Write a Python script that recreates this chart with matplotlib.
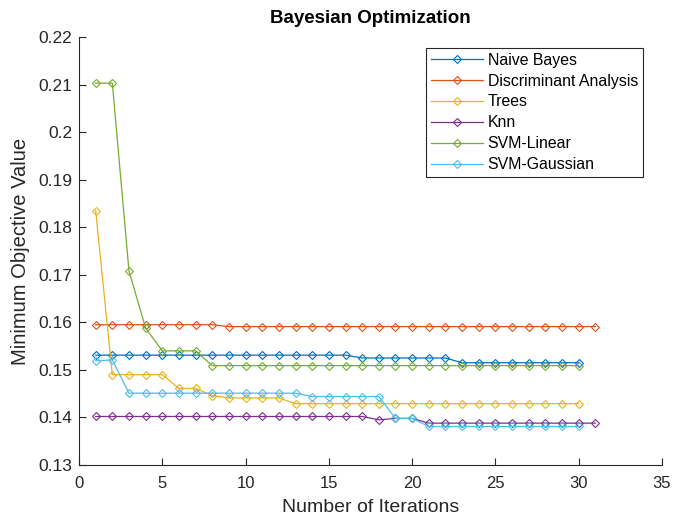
import matplotlib
matplotlib.use("Agg")
import matplotlib.pyplot as plt

plt.rcParams['font.family'] = ['Liberation Sans', 'DejaVu Sans']

naive_bayes = [0.1531]*16 + [0.1525]*6 + [0.1515]*8
discriminant = [0.1595]*8 + [0.1591]*23
trees = [0.1835] + [0.1490]*4 + [0.1461]*2 + [0.1446] + [0.1441]*4 + [0.1429]*18
knn = [0.1402]*17 + [0.1395, 0.1398, 0.1398] + [0.1388]*11
svm_linear = [0.2103, 0.2103, 0.1708, 0.1588] + [0.1540]*3 + [0.1509]*23
svm_gaussian = [0.1519, 0.1521] + [0.1451]*11 + [0.1444]*5 + [0.1398, 0.1398] + [0.1381]*10

labels = ["Naive Bayes", "Discriminant Analysis", "Trees", "Knn", "SVM-Linear", "SVM-Gaussian"]
series = [naive_bayes, discriminant, trees, knn, svm_linear, svm_gaussian]
colors = ["#0072BD", "#D95319", "#EDB120", "#7E2F8E", "#77AC30", "#4DBEEE"]

L, R, T, B = 79, 662, 37, 465
fig = plt.figure(figsize=(6.75, 5.18), dpi=100)
ax = fig.add_axes([L/675, 1-B/518, (R-L)/675, (B-T)/518])

for vals, lab, c in zip(series, labels, colors):
    xs = list(range(1, len(vals)+1))
    ax.plot(xs, vals, color=c, lw=0.9, marker='D', ms=4.5, mfc='none', mec=c, mew=0.8, label=lab)

ax.set_xlim(0, 35)
ax.set_ylim(0.13, 0.22)
ax.set_xticks(range(0, 36, 5))
ax.set_yticks([0.13, 0.14, 0.15, 0.16, 0.17, 0.18, 0.19, 0.2, 0.21, 0.22])
ax.set_yticklabels(["0.13", "0.14", "0.15", "0.16", "0.17", "0.18", "0.19", "0.2", "0.21", "0.22"])
ax.tick_params(direction='in', length=5, width=0.8, labelsize=12.5, colors='#262626',
               labelcolor='#262626', pad=5)
ax.tick_params(axis='x', labelsize=12, pad=8)
for s in ['top', 'right']:
    ax.spines[s].set_visible(False)
for s in ['left', 'bottom']:
    ax.spines[s].set_color('#262626')
    ax.spines[s].set_linewidth(0.8)

ax.set_xlabel("Number of Iterations", fontsize=14, color='#262626', labelpad=6)
ax.set_ylabel("Minimum Objective Value", fontsize=14.5, color='#262626', labelpad=6)
ax.set_title("Bayesian Optimization", fontsize=13.5, fontweight='bold', pad=10)

leg = ax.legend(loc='upper left', bbox_to_anchor=((426-L)/(R-L), (B-48)/(B-T)), fontsize=11.4,
                handlelength=3.3, labelspacing=0.37, borderpad=0.3, handletextpad=0.3,
                borderaxespad=0, fancybox=False, frameon=True, framealpha=1, markerscale=0.9)
leg.get_frame().set_edgecolor('#262626')
leg.get_frame().set_linewidth(0.8)

fig.savefig("out.png", dpi=100)
